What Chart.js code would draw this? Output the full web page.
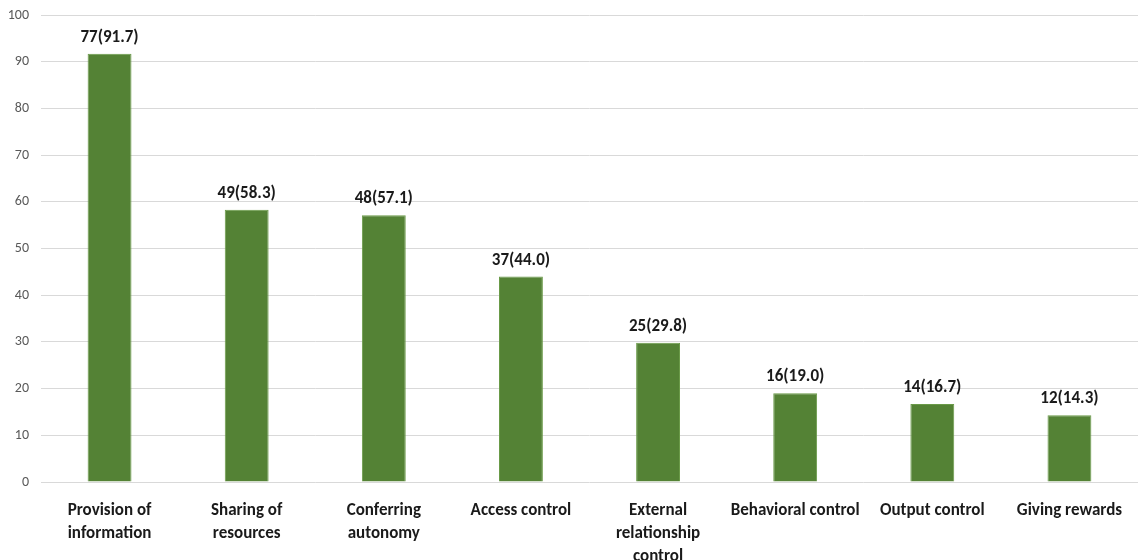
<!DOCTYPE html>
<html>
<head>
<meta charset="utf-8">
<script src="https://cdn.jsdelivr.net/npm/chart.js@4/dist/chart.umd.min.js"></script>
<style>
  html, body { margin: 0; padding: 0; background: #ffffff; }
  #wrap { width: 1144px; height: 560px; position: relative; }
</style>
</head>
<body>
<div id="wrap"><canvas id="c" width="1144" height="560"></canvas></div>
<script>
// Control mechanisms: number of respondents and percentage
const categories = [
  ["Provision of", "information"],
  ["Sharing of", "resources"],
  ["Conferring", "autonomy"],
  ["Access control"],
  ["External", "relationship", "control"],
  ["Behavioral control"],
  ["Output control"],
  ["Giving rewards"]
];
const counts = [77, 49, 48, 37, 25, 16, 14, 12];
const percents = [91.7, 58.3, 57.1, 44.0, 29.8, 19.0, 16.7, 14.3];
const yTicks = [0, 10, 20, 30, 40, 50, 60, 70, 80, 90, 100];

const FONT = "Carlito, Lato, 'Open Sans', sans-serif";

// Writes "n(pct)" above each bar
const valueLabels = {
  id: 'valueLabels',
  afterDatasetsDraw(chart) {
    const ctx = chart.ctx;
    const meta = chart.getDatasetMeta(0);
    ctx.save();
    ctx.font = "bold 17px " + FONT;
    ctx.fillStyle = "#1a1a1a";
    ctx.textAlign = "center";
    ctx.textBaseline = "alphabetic";
    meta.data.forEach((bar, i) => {
      const { x, y } = bar.getProps(['x', 'y'], true);
      ctx.fillText(counts[i] + "(" + percents[i].toFixed(1) + ")", x, y - 12);
    });
    ctx.restore();
  }
};

new Chart(document.getElementById('c'), {
  type: 'bar',
  data: {
    labels: categories,
    datasets: [{
      data: percents,
      backgroundColor: '#548235',
      borderColor: '#6a9a48',
      borderWidth: 1,
      barPercentage: 0.64,
      categoryPercentage: 0.5
    }]
  },
  options: {
    responsive: false,
    animation: false,
    layout: { padding: { top: 15, right: 6, left: 0, bottom: 0 } },
    plugins: {
      legend: { display: false },
      tooltip: { enabled: false }
    },
    scales: {
      x: {
        grid: { display: false },
        border: { display: false },
        ticks: {
          color: '#1a1a1a',
          font: { family: FONT, size: 17, weight: 'bold', lineHeight: 1.35 },
          maxRotation: 0,
          autoSkip: false,
          padding: 9
        },
        afterFit(scale) {
          scale.height = 78;
          scale.paddingLeft = 0;
          scale.paddingRight = 0;
        }
      },
      y: {
        min: 0,
        max: 100,
        afterBuildTicks(scale) { scale.ticks = yTicks.map(v => ({ value: v })); },
        grid: { color: '#d9d9d9', lineWidth: 1, drawTicks: false },
        border: { display: false },
        ticks: {
          color: '#595959',
          font: { family: FONT, size: 14 },
          padding: 12
        },
        afterFit(scale) {
          scale.width = 41;
          scale.paddingTop = 0;
          scale.paddingBottom = 0;
        }
      }
    }
  },
  plugins: [valueLabels]
});
</script>
</body>
</html>
